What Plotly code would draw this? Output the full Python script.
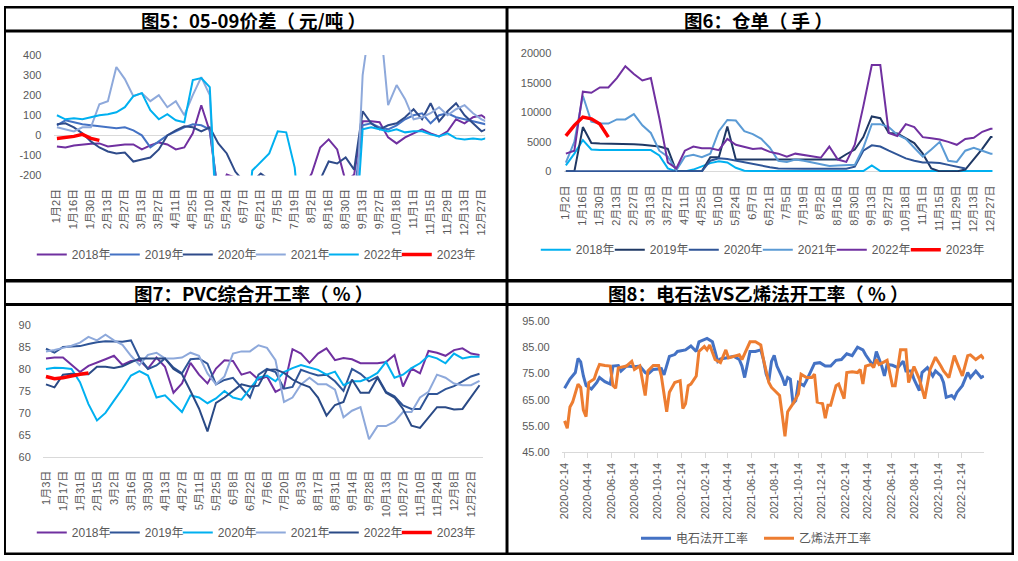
import plotly.graph_objects as go
import pandas as pd

W, H = 1018, 561

# ---------------- data ----------------
cats_5 = ["1月2日","1月9日","1月16日","1月23日","1月30日","2月6日","2月13日","2月20日","2月27日","3月6日",
          "3月13日","3月20日","3月27日","4月4日","4月11日","4月18日","4月25日","5月3日","5月10日","5月17日",
          "5月24日","5月31日","6月7日","6月14日","6月21日","6月28日","7月5日","7月12日","7月19日","7月26日",
          "8月2日","8月9日","8月16日","8月23日","8月30日","9月6日","9月13日","9月20日","9月27日","10月11日",
          "10月18日","10月25日","11月1日","11月8日","11月15日","11月22日","11月29日","12月6日","12月13日","12月20日",
          "12月27日","12月31日"]
cats_7 = ["1月3日","1月10日","1月17日","1月24日","1月31日","2月8日","2月15日","2月22日","3月2日","3月9日",
          "3月16日","3月23日","3月30日","4月6日","4月13日","4月20日","4月27日","5月4日","5月11日","5月18日",
          "5月25日","6月1日","6月8日","6月15日","6月22日","6月29日","7月6日","7月13日","7月20日","7月27日",
          "8月3日","8月10日","8月17日","8月24日","8月31日","9月7日","9月14日","9月21日","9月28日","10月6日",
          "10月13日","10月20日","10月27日","11月3日","11月10日","11月17日","11月24日","12月1日","12月8日","12月15日",
          "12月22日","12月29日"]
years = ["2018年", "2019年", "2020年", "2021年", "2022年", "2023年"]

# Fig 5: 05-09 spread (yuan/t)
s5_2018 = [-55,-60,-50,-45,-42,-40,-55,-50,-45,-45,-70,-50,-35,-45,-70,-60,10,150,20,-300,-195,-210,
           -300,-300,-300,-300,-300,-300,-300,-260,-190,-60,-20,-70,-230,-195,70,70,65,-10,-40,-10,10,30,
           10,-5,20,80,60,90,100,70]
s5_2019 = [50,75,65,55,50,45,42,35,40,25,0,-60,-30,0,20,40,55,50,30] + [-300]*17 + \
          [50,60,40,30,50,80,100,110,60,100,110,90,80,70,60,50]
s5_2020 = [55,60,40,10,-30,-60,-80,-90,-85,-130,-120,-110,-70,0,25,45,40,20,40,-40,
           -90,-180,-230,-230,-190,-220,-260,-260,-260,-260,-230,-220,-130,-140,-110,-170,120,60,30,50,
           60,90,130,80,160,70,120,160,100,60,20,40]
s5_2021 = [40,30,20,40,40,155,170,340,280,195,210,170,200,140,170,100,200,290,200] + [-600]*17 + \
          [300,600,600,150,250,180,80,90,110,140,100,130,150,110,80,60]
s5_2022 = [100,80,85,80,90,100,105,115,140,195,210,125,80,105,75,65,275,285,240] + [-600]*4 + \
          [-175,-130,-90,20,15,-160] + [-600]*7 + \
          [30,40,30,20,30,15,20,20,5,-5,10,-15,-20,-15,-20,-10]
s5_2023 = [-15,-10,-5,5,-15,-25] + [None]*46

# Fig 6: warehouse receipts (lots)
s6_2018 = [1000,3000,5300,3700,3600,3600,3600,3600,3600,3600,3600,2700,500,0,0,300,900,1400,1700,1500,600,100] + \
          [50]*14 + [1000] + [50]*15
s6_2019 = [0,0,7500,4800,4700,4700,4700,4700,4600,4500,4400,4200,3800,0,0,0,0,2400,2400,7600,2000] + \
          [2000]*12 + [2900,3700,5800,9300,9000,6500,6400,5600,4800,3000,500,0,0,0,300,2000,3800,5800,5800]
s6_2020 = [0]*17 + [1800,2200,2100,1800,1500,1200,900,700,500] + [450]*8 + \
          [800,3500,4400,4200,3500,2800,2200,1800,1500,1500,1400,1100,800,500] + [None]*4
s6_2021 = [1500,5000,12800,8400,8100,8100,8800,8800,9700,7800,6500,3500,2500,200,2500,2800,2400,3000,6800,8700,
           8600,6800,6300,5500,4000,1800,1600,2000,1800,1500,1200,900,1000,1000,1100,4000,8000,8000,7500,6200,
           5500,4000,2500,3700,5000,1800,1600,3500,4000,3500,3000,3000]
s6_2022 = [3000,3500,13500,13300,14200,14200,15800,17800,16500,15400,15800,9000,1500,500,3500,4200,3900,3900,3600,5500,
           4500,4200,3800,3900,3300,3000,2500,3000,2800,2500,2300,4200,2000,1600,4500,11000,18000,18000,6500,6000,
           8000,7500,5800,5600,5400,5000,4500,5500,5700,6700,7200,7300]
s6_2023 = [6000,7800,9200,8900,8000,5800] + [None]*46

# Fig 7: PVC operating rate (%)
s7_2018 = [82.4,82.6,82.6,81.0,79.3,80.7,81.4,82.2,83.0,80.9,81.8,82.0,80.1,82.6,80.5,74.6,76.7,81.4,78.7,76.7,
           80.1,82.0,81.8,78.7,79.3,77.6,78.3,74.8,75.8,84.5,83.5,81.4,83.5,84.7,82.0,82.5,82.2,81.3,81.3,81.3,
           81.6,83.2,76.0,80.1,79.0,84.1,83.7,83.0,84.3,84.7,83.5,83.2]
s7_2019 = [84.6,83.7,85.0,85.1,85.2,85.7,86.1,86.3,86.3,86.2,86.5,82.5,80.0,80.8,82.4,80.3,79.0,82.2,82.4,81.2,
           76.5,77.5,78.0,75.8,73.5,78.7,80.0,79.3,75.5,75.9,79.8,79.1,78.5,78.7,77.2,75.0,80.0,78.9,77.2,78.2,
           74.8,73.8,71.7,70.9,70.9,74.3,74.3,75.4,76.1,77.2,78.3,78.9]
s7_2020 = [80.0,80.3,80.2,80.0,77.0,72.0,68.3,70.0,72.8,75.5,78.5,79.5,78.5,73.5,74.0,72.0,70.2,74.0,73.5,72.2,
           73.3,75.0,73.5,73.0,75.5,78.0,78.5,77.2,79.3,80.2,80.9,80.4,79.8,78.7,79.4,76.3,77.2,77.2,78.0,79.1,
           81.6,78.0,78.7,80.2,81.3,83.0,82.4,81.3,83.5,82.4,82.8,82.8]
s7_2021 = [84.0,84.3,84.8,85.3,86.0,87.3,86.5,87.8,86.5,85.5,83.0,80.9,83.2,83.7,82.4,82.4,82.6,83.7,83.0,79.0,
           76.5,78.3,83.5,84.0,84.0,85.4,84.8,82.0,72.5,73.5,76.5,78.0,76.5,76.5,75.3,69.0,70.5,71.3,64.0,67.0,
           67.0,68.0,70.2,70.2,73.5,74.8,78.7,78.0,76.7,76.3,76.3,77.3]
s7_2022 = [76.5,75.8,78.7,78.9,78.8,78.8,80.5,80.5,80.2,80.6,81.5,82.4,82.4,82.4,82.4,80.0,78.8,75.0,71.0,65.8,
           72.3,73.5,75.0,76.5,76.0,76.2,79.8,79.9,79.1,77.6,76.6,75.9,73.5,69.4,71.8,72.5,77.6,74.6,74.6,78.0,
           74.6,73.5,70.9,67.1,66.6,69.0,71.3,71.3,70.8,70.9,73.5,76.3]
s7_2023 = [78.3,77.8,78.0,78.5,78.8,79.1] + [None]*46

# Fig 8: calcium carbide vs ethylene process operating rate (%), weeks since 2020-02-14
start_8 = "2020-02-14"
elec_week = [0,2,4,5,6,7,8,10,12,13,15,17,18,20,21,23,26,28,30,31,33,36,37,39,41,42,45,47,49,50,53,55,57,58,
             60,63,65,66,67,69,71,73,74,75,76,77,78,79,81,82,83,84,85,86,87,89,90,93,95,97,99,101,103,104,
             105,107,109,111,112,114,115,116,118,119,120,122,124,126,127,129,130,132,133,135,137,138,140,141,
             142,144,145,146,148,150,151,153,155,156]
elec_rate = [69.4,72.9,75.4,80.8,79.5,74.1,70.4,69.1,71.6,73.5,71.9,71.0,77.9,78.1,76.0,77.9,77.6,77.9,75.4,74.8,
             76.6,76.9,74.5,81.6,82.3,83.5,84.1,85.6,83.5,87.2,88.5,87.2,79.7,80.6,81.0,81.6,80.4,77.9,73.5,83.5,
             83.5,84.1,80.4,74.8,72.3,79.7,82.0,77.9,73.5,70.4,73.5,72.9,63.5,64.7,71.6,70.4,72.3,78.9,79.2,77.9,
             77.9,80.1,80.4,81.6,82.6,81.9,85.1,84.1,82.2,79.2,78.5,83.5,77.9,74.1,78.5,78.2,77.3,79.8,76.0,76.0,
             72.9,68.5,75.4,77.3,74.1,76.0,74.1,71.6,65.9,66.6,65.5,67.8,70.4,75.4,73.5,76.0,73.5,74.1]
eth_week = [0,1,2,3,5,6,7,8,9,11,12,13,15,17,18,19,20,23,25,26,28,30,31,33,35,36,38,39,41,43,44,45,46,47,49,
            50,52,53,54,56,58,60,61,63,65,66,69,71,73,74,76,77,79,80,81,82,83,85,87,88,90,92,93,94,96,97,98,99,
            101,102,104,105,107,109,110,111,112,114,115,116,117,120,122,123,125,127,128,130,132,134,136,138,140,
            141,143,145,146,148,150,151,153,154,155,156]
eth_rate = [56.9,54.1,62.2,64.1,71.0,69.7,61.0,58.5,71.6,72.9,76.0,78.5,78.1,77.9,70.4,69.4,77.2,77.9,79.7,76.6,
            77.9,66.6,76.0,78.1,78.1,74.1,60.4,67.9,71.6,72.3,61.6,63.5,70.4,71.0,74.1,83.5,85.4,84.1,86.0,80.4,
            79.2,84.1,81.0,81.6,82.2,80.4,87.2,87.2,86.0,80.4,71.6,69.7,67.5,66.6,59.1,51.0,60.4,63.5,67.2,74.8,
            73.5,73.5,74.8,64.1,63.5,57.9,62.9,62.9,70.4,71.0,65.4,75.4,75.7,75.4,76.6,71.0,77.9,78.5,77.3,80.4,
            78.5,80.1,70.4,70.4,84.1,84.1,71.6,77.7,72.9,65.4,76.6,81.3,77.9,76.0,73.5,81.9,79.2,74.1,81.9,82.2,
            80.4,81.0,81.9,80.6]
ticks_8 = ["2020-02-14","2020-04-14","2020-06-14","2020-08-14","2020-10-14","2020-12-14",
           "2021-02-14","2021-04-14","2021-06-14","2021-08-14","2021-10-14","2021-12-14",
           "2022-02-14","2022-04-14","2022-06-14","2022-08-14","2022-10-14","2022-12-14"]

titles = ["图5：05-09价差（ 元/吨 ）", "图6：仓单（ 手 ）", "图7：PVC综合开工率（ % ）", "图8：电石法VS乙烯法开工率（ % ）"]
names_8 = ["电石法开工率", "乙烯法开工率"]

# ---------------- style ----------------
def fx(px):
    return px / W

def fy(py):
    return 1 - py / H

FONT = "Liberation Sans, Noto Sans CJK SC, sans-serif"
GRAY = "#595959"
AX = "#D9D9D9"

col5 = ["#7030A0", "#4472C4", "#2F4B8A", "#8EA9DB", "#00B0F0", "#FF0000"]
col6 = ["#00B0F0", "#1F3864", "#2F5597", "#5B9BD5", "#7030A0", "#FF0000"]
col7 = ["#7030A0", "#2F5597", "#00B0F0", "#8EA9DB", "#2A4A86", "#FF0000"]

fig = go.Figure()

def add_years(series, cats, cols, xa, ya, lg):
    for i, (nm, ys) in enumerate(zip(years, series)):
        kw = {}
        if i == 5:
            kw["legendwidth"] = 46
        fig.add_trace(go.Scatter(
            x=cats, y=ys, mode="lines", name=nm,
            line=dict(color=cols[i], width=3.5 if i == 5 else 2),
            xaxis=xa, yaxis=ya, legend=lg, connectgaps=False, hoverinfo="skip", **kw))

add_years([s5_2018, s5_2019, s5_2020, s5_2021, s5_2022, s5_2023], cats_5, col5, "x", "y", "legend")
add_years([s6_2018, s6_2019, s6_2020, s6_2021, s6_2022, s6_2023], cats_5, col6, "x2", "y2", "legend2")
add_years([s7_2018, s7_2019, s7_2020, s7_2021, s7_2022, s7_2023], cats_7, col7, "x3", "y3", "legend3")

t0 = pd.Timestamp(start_8)
elec_dates = [t0 + pd.Timedelta(days=7 * w) for w in elec_week]
eth_dates = [t0 + pd.Timedelta(days=7 * w) for w in eth_week]
fig.add_trace(go.Scatter(x=elec_dates, y=elec_rate, mode="lines", name=names_8[0],
                         line=dict(color="#4472C4", width=3), xaxis="x4", yaxis="y4",
                         legend="legend4", hoverinfo="skip"))
fig.add_trace(go.Scatter(x=eth_dates, y=eth_rate, mode="lines", name=names_8[1],
                         line=dict(color="#ED7D31", width=3), xaxis="x4", yaxis="y4",
                         legend="legend4", hoverinfo="skip", legendwidth=90))

tickfont = dict(family=FONT, size=11, color=GRAY)

def cat_xaxis(dom, rng, cats, anchor):
    return dict(domain=[fx(dom[0]), fx(dom[1])], type="category", range=rng,
                tickmode="array", tickvals=cats[::2], ticktext=cats[::2], tickangle=-90,
                tickfont=tickfont, ticks="outside", ticklen=8, tickcolor="rgba(0,0,0,0)",
                showgrid=False, zeroline=False, showline=False, anchor=anchor, fixedrange=True)

def val_yaxis(dom, rng, tv, anchor, fmt=None):
    d = dict(domain=[fy(dom[1]), fy(dom[0])], range=rng, tickmode="array", tickvals=tv,
             ticktext=[(format(v, fmt) if fmt else str(v)) for v in tv],
             tickfont=tickfont, ticks="outside", ticklen=9, tickcolor="rgba(0,0,0,0)",
             showgrid=False, zeroline=False, showline=False, anchor=anchor, fixedrange=True)
    return d

layout = dict(
    width=W, height=H, autosize=False,
    margin=dict(l=0, r=0, t=0, b=0),
    paper_bgcolor="white", plot_bgcolor="white",
    hovermode=False, font=dict(family=FONT, color=GRAY),
)
layout["xaxis"] = cat_xaxis((50, 485), [-0.39, 50.43], cats_5, "y")
layout["yaxis"] = val_yaxis((50, 173.3), [-200, 400], [-200, -100, 0, 100, 200, 300, 400], "x")
layout["yaxis"].update(zeroline=True, zerolinecolor=AX, zerolinewidth=1)

layout["xaxis2"] = cat_xaxis((564, 996.3), [-0.27, 50.2], cats_5, "y2")
layout["yaxis2"] = val_yaxis((48.3, 169.7), [-120, 20000], [0, 5000, 10000, 15000, 20000], "x2")
layout["yaxis2"].update(zeroline=True, zerolinecolor=AX, zerolinewidth=1)

layout["xaxis3"] = cat_xaxis((39.3, 482.7), [-0.35, 51.4], cats_7, "y3")
layout["xaxis3"].update(showline=True, linecolor=AX, linewidth=1.5, layer="below traces")
layout["yaxis3"] = val_yaxis((326, 460.7), [60, 90], [60, 65, 70, 75, 80, 85, 90], "x3")

layout["xaxis4"] = dict(domain=[fx(562.3), fx(988)], type="date",
                        range=["2020-02-07", "2023-02-11"], tickmode="array",
                        tickvals=ticks_8, ticktext=ticks_8, tickangle=-90, tickfont=tickfont,
                        ticks="outside", ticklen=5, tickcolor=AX, showgrid=False, zeroline=False,
                        showline=True, linecolor=AX, linewidth=1.5, layer="below traces",
                        anchor="y4", fixedrange=True)
layout["yaxis4"] = val_yaxis((322.3, 455.7), [45, 95], [45, 55, 65, 75, 85, 95], "x4", ".2f")

def legend_cfg(x0, yc, ew):
    return dict(x=fx(x0), y=fy(yc), xanchor="left", yanchor="middle", orientation="h",
                font=dict(family=FONT, size=12, color=GRAY), itemwidth=30,
                entrywidth=ew, entrywidthmode="pixels", bgcolor="rgba(0,0,0,0)",
                borderwidth=0, traceorder="normal", itemclick=False, itemdoubleclick=False)

layout["legend"] = legend_cfg(28, 254, 28)
layout["legend2"] = legend_cfg(536, 249, 29)
layout["legend3"] = legend_cfg(28, 538, 28)
layout["legend4"] = legend_cfg(637, 544, 78)

# titles
title_pos = [(251, 14), (760, 14), (251, 293), (760, 293)]
ann = []
for t, (cx, cy) in zip(titles, title_pos):
    ann.append(dict(text=t, x=fx(cx), y=fy(cy), xref="paper", yref="paper",
                    xanchor="center", yanchor="middle", showarrow=False,
                    font=dict(family="Noto Sans CJK SC, sans-serif", size=18.5, color="#000000", weight="bold")))
layout["annotations"] = ann

# black frame lines (pixel rects)
rects = [
    (0, 0, W, 2.5), (0, 24, W, 27), (0, 279, W, 282.5), (0, 303.5, W, 306.5), (0, 558.5, W, H),
    (0, 0, 2, H), (505.5, 0, 508.5, H), (1015.5, 0, W, H),
]
shapes = []
for (x0, y0, x1, y1) in rects:
    shapes.append(dict(type="rect", xref="paper", yref="paper", x0=fx(x0), x1=fx(x1),
                       y0=fy(y1), y1=fy(y0), fillcolor="black", line=dict(width=0), layer="above"))
layout["shapes"] = shapes

fig.update_layout(**layout)
fig.write_html("out.html", include_plotlyjs=True,
               config={"displayModeBar": False, "staticPlot": True},
               post_script="document.body.style.margin='0';document.body.style.overflow='hidden';")
